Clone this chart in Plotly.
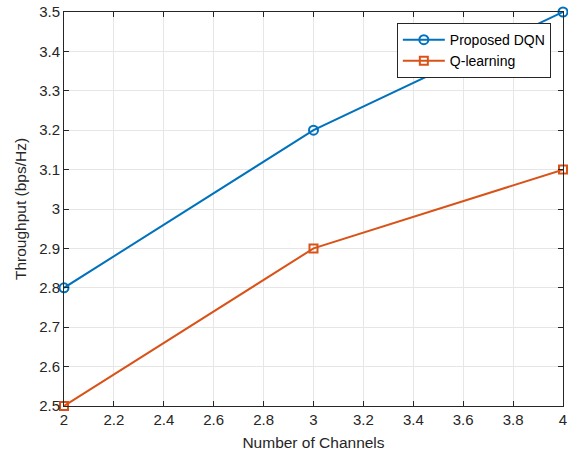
import plotly.graph_objects as go

channels = [2, 3, 4]
dqn = [2.8, 3.2, 3.5]
qlearn = [2.5, 2.9, 3.1]

x_ticks = [2, 2.2, 2.4, 2.6, 2.8, 3, 3.2, 3.4, 3.6, 3.8, 4]
x_labels = ["2", "2.2", "2.4", "2.6", "2.8", "3", "3.2", "3.4", "3.6", "3.8", "4"]
y_ticks = [2.5, 2.6, 2.7, 2.8, 2.9, 3, 3.1, 3.2, 3.3, 3.4, 3.5]
y_labels = ["2.5", "2.6", "2.7", "2.8", "2.9", "3", "3.1", "3.2", "3.3", "3.4", "3.5"]

FONT = "Liberation Sans, Arial, sans-serif"

fig = go.Figure()
fig.add_trace(go.Scatter(x=channels, y=dqn, mode="lines+markers", name="Proposed DQN",
                         line=dict(color="#0072BD", width=2),
                         marker=dict(symbol="circle-open", size=9, color="#0072BD", line=dict(width=2)),
                         cliponaxis=False))
fig.add_trace(go.Scatter(x=channels, y=qlearn, mode="lines+markers", name="Q-learning",
                         line=dict(color="#D95319", width=2),
                         marker=dict(symbol="square-open", size=8, color="#D95319", line=dict(width=2)),
                         cliponaxis=False))

axis_common = dict(showgrid=True, gridcolor="#E6E6E6", gridwidth=1,
                   showline=True, linecolor="#262626", linewidth=1, mirror="ticks",
                   ticks="inside", ticklen=5, tickcolor="#262626",
                   zeroline=False, automargin=False,
                   tickfont=dict(family=FONT, size=15, color="#262626"))

fig.update_xaxes(range=[2, 4], tickvals=x_ticks, ticktext=x_labels,
                 title=dict(text="Number of Channels", font=dict(family=FONT, size=15.5, color="#262626"), standoff=10),
                 **axis_common)
fig.update_yaxes(range=[2.5, 3.5], tickvals=y_ticks, ticktext=y_labels,
                 title=dict(text="Throughput (bps/Hz)", font=dict(family=FONT, size=15.5, color="#262626"), standoff=8),
                 **axis_common)

fig.update_layout(
    width=568, height=457,
    margin=dict(l=64, r=5, t=12, b=51),
    paper_bgcolor="white", plot_bgcolor="white",
    showlegend=True,
    legend=dict(x=0.667, y=0.972, xanchor="left", yanchor="top",
                bgcolor="white", bordercolor="#262626", borderwidth=1,
                font=dict(family=FONT, size=14, color="black"),
                tracegroupgap=0, itemwidth=42),
)

fig.write_html("out.html", config={"displayModeBar": False},
               post_script="document.body.style.margin='0';document.body.style.overflow='hidden';")
